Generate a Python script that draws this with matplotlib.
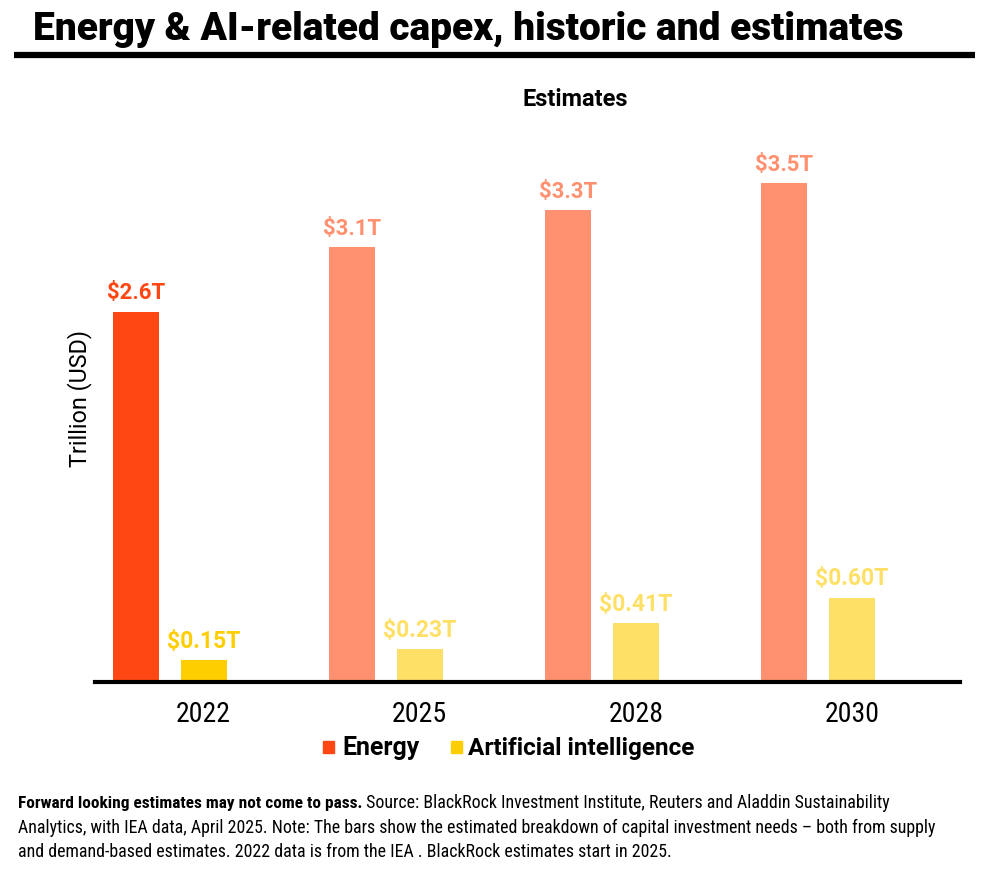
import matplotlib
matplotlib.use("Agg")
import matplotlib.pyplot as plt
from matplotlib import font_manager as fm
from matplotlib.lines import Line2D
from matplotlib.patches import Rectangle

# ---- data ----
years = ["2022", "2025", "2028", "2030"]
energy = [2.6, 3.05, 3.31, 3.5]
ai = [0.15, 0.228, 0.41, 0.59]
energy_labels = ["$2.6T", "$3.1T", "$3.3T", "$3.5T"]
ai_labels = ["$0.15T", "$0.23T", "$0.41T", "$0.60T"]
energy_colors = ["#FF4713", "#FF9170", "#FF9170", "#FF9170"]
ai_colors = ["#FFCE00", "#FFE066", "#FFE066", "#FFE066"]

title = "Energy & AI-related capex, historic and estimates"
subtitle = "Estimates"
ylabel = "Trillion (USD)"
legend_names = ["Energy", "Artificial intelligence"]
foot_bold = "Forward looking estimates may not come to pass."
foot_lines = [
    " Source: BlackRock Investment Institute, Reuters and Aladdin Sustainability",
    "Analytics, with IEA data, April 2025. Note: The bars show the estimated breakdown of capital investment needs \u2013 both from supply",
    "and demand-based estimates. 2022 data is from the IEA . BlackRock estimates start in 2025.",
]

names = {f.name for f in fm.fontManager.ttflist}
cond = "Roboto Condensed" if "Roboto Condensed" in names else "DejaVu Sans"
wide = "Roboto" if "Roboto" in names else "DejaVu Sans"

W, H = 1003, 873
fig = plt.figure(figsize=(W / 100, H / 100), dpi=100)
renderer = fig.canvas.get_renderer()


def P(x, y):
    return (x / W, 1 - y / H)


def fit(t, target_w):
    t.set_fontsize(20)
    w = t.get_window_extent(renderer).width
    t.set_fontsize(20 * target_w / w)


# ---- axes ----
base = 681.5
ax = fig.add_axes([95 / W, 1 - base / H, (960 - 95) / W, (base - 150) / H])
xs = list(range(len(years)))
off = 0.314
bw = 0.2125
for i in xs:
    ax.bar(i, energy[i], width=bw, color=energy_colors[i], zorder=2)
    ax.bar(i + off, ai[i], width=bw, color=ai_colors[i], zorder=2)
ax.set_xlim(-0.189, 3.813)
ax.set_ylim(0, (base - 150) / 142.3)
for s in ["top", "right", "left"]:
    ax.spines[s].set_visible(False)
ax.spines["bottom"].set_linewidth(3.0)
ax.spines["bottom"].set_color("black")
ax.spines["bottom"].set_zorder(3)
ax.set_yticks([])
ax.set_xticks([i + off for i in xs])
ax.set_xticklabels(years, family=cond)
ax.tick_params(axis="x", length=0, pad=14)
for lab in ax.get_xticklabels():
    fit(lab, 55)

for i in xs:
    t = ax.annotate(energy_labels[i], (i, energy[i]), xytext=(0, 9.0), textcoords="offset points",
                    ha="center", va="baseline", color=energy_colors[i], fontweight="bold",
                    family=wide)
    fit(t, 58)
    t = ax.annotate(ai_labels[i], (i + off, ai[i]), xytext=(0, 9.0), textcoords="offset points",
                    ha="center", va="baseline", color=ai_colors[i], fontweight="bold",
                    family=wide)
    fit(t, 73)

# ---- title ----
t = fig.text(*P(33, 40), title, ha="left", va="baseline", fontweight="black", family=wide)
fit(t, 874)
fig.add_artist(Line2D([14 / W, 975 / W], [1 - 55 / H] * 2, color="black", lw=4.5,
                      solid_capstyle="butt"))

t = fig.text(*P(575, 106), subtitle, ha="center", va="baseline", fontweight="bold", family=wide)
fit(t, 105)

t = fig.text(*P(80, 399), ylabel, ha="center", va="center", rotation=90, family=wide)
t.set_rotation(0)
fit(t, 137)
t.set_rotation(90)

# ---- legend ----
for (x0, col) in [(323, energy_colors[0]), (451, ai_colors[0])]:
    fig.add_artist(Rectangle(P(x0, 753), 11 / W, 12 / H, color=col, transform=fig.transFigure))
t = fig.text(*P(342, 755), legend_names[0], ha="left", va="baseline", fontweight="bold",
             family=wide)
fit(t, 77)
t = fig.text(*P(468, 755), legend_names[1], ha="left", va="baseline", fontweight="bold",
             family=wide)
fit(t, 226)

# ---- footnote ----
tb = fig.text(*P(18, 808), foot_bold, ha="left", va="baseline", fontweight="bold", family=cond)
fit(tb, 342)
ext = tb.get_window_extent(renderer)
t1 = fig.text(ext.x1 / W, 1 - 808 / H, foot_lines[0], ha="left", va="baseline", family=cond)
fit(t1, 890 - 362)
fsr = t1.get_fontsize()
fig.text(*P(18, 833), foot_lines[1], ha="left", va="baseline", family=cond, fontsize=fsr)
fig.text(*P(18, 857), foot_lines[2], ha="left", va="baseline", family=cond, fontsize=fsr)

fig.savefig("out.png", dpi=100)
